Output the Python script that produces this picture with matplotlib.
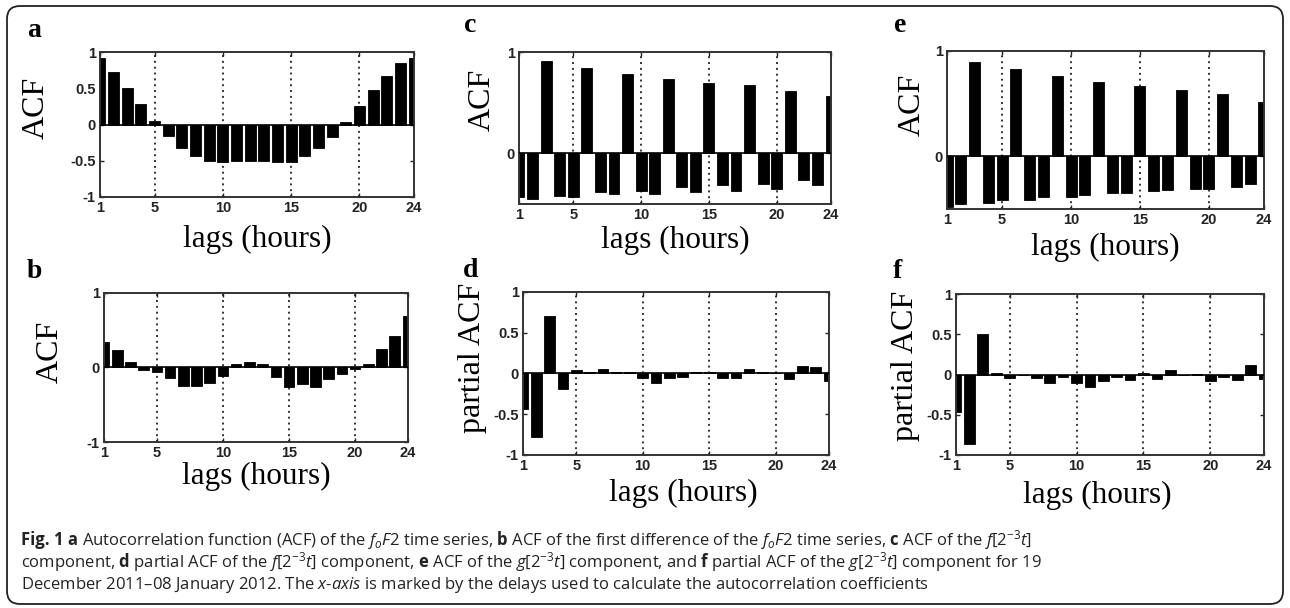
import matplotlib
matplotlib.use("Agg")
import matplotlib.pyplot as plt
from matplotlib.patches import FancyBboxPatch

# ---------------- data ----------------
lags = list(range(1, 25))
xtick_vals = [1, 5, 10, 15, 20, 24]
grid_lags = [5, 10, 15, 20]

acf_fof2 = [0.92, 0.73, 0.51, 0.28, 0.05, -0.16, -0.32, -0.44, -0.50, -0.52, -0.50, -0.50,
            -0.50, -0.52, -0.52, -0.44, -0.32, -0.17, 0.03, 0.26, 0.48, 0.67, 0.85, 0.92]
acf_diff = [0.34, 0.23, 0.07, -0.035, -0.07, -0.15, -0.25, -0.25, -0.21, -0.12, 0.05, 0.07,
            0.05, -0.13, -0.27, -0.22, -0.26, -0.16, -0.09, -0.02, 0.05, 0.24, 0.42, 0.69]
acf_f = [-0.43, -0.45, 0.91, -0.42, -0.43, 0.84, -0.38, -0.40, 0.78, -0.37, -0.40, 0.73,
         -0.33, -0.38, 0.69, -0.31, -0.37, 0.67, -0.30, -0.35, 0.62, -0.26, -0.31, 0.57]
pacf_f = [-0.43, -0.78, 0.71, -0.19, 0.045, 0.02, 0.06, 0.02, 0.02, -0.06, -0.115, -0.06,
          -0.04, 0.015, 0.015, -0.05, -0.05, 0.06, 0.015, 0.0, -0.07, 0.09, 0.075, -0.09]
acf_g = [-0.48, -0.45, 0.90, -0.44, -0.41, 0.83, -0.41, -0.39, 0.76, -0.39, -0.37, 0.71,
         -0.35, -0.35, 0.67, -0.33, -0.32, 0.63, -0.31, -0.31, 0.59, -0.29, -0.26, 0.52]
pacf_g = [-0.47, -0.86, 0.50, 0.015, -0.04, -0.01, -0.04, -0.10, -0.03, -0.10, -0.16, -0.08,
          -0.025, -0.07, 0.015, -0.06, 0.055, 0.0, 0.01, -0.075, -0.03, -0.07, 0.12, -0.06]

yt_full = [-1, -0.5, 0, 0.5, 1]
yt_full_lbl = ["-1", "-0.5", "0", "0.5", "1"]
yt_b = [-1, 0, 1]
yt_b_lbl = ["-1", "0", "1"]
yt_ce = [0, 1]
yt_ce_lbl = ["0", "1"]

caption_head = "Fig. 1 a"
caption_lines = [
    r"Autocorrelation function (ACF) of the $\mathit{f_{o}F2}$ time series, "
    r"$\mathbf{b}$ ACF of the first difference of the $\mathit{f_{o}F2}$ time series, $\mathbf{c}$ ACF of the $f[2^{-3}t]$",
    r"component, $\mathbf{d}$ partial ACF of the $f[2^{-3}t]$ component, $\mathbf{e}$ ACF of the $g[2^{-3}t]$ "
    r"component, and $\mathbf{f}$ partial ACF of the $g[2^{-3}t]$ component for 19",
    r"December 2011–08 January 2012. The $x$-$axis$ is marked by the delays used to calculate the autocorrelation coefficients",
]

# ---------------- figure ----------------
W, H = 1290, 608
plt.rcParams["mathtext.fontset"] = "custom"
plt.rcParams["mathtext.rm"] = "Open Sans"
plt.rcParams["mathtext.it"] = "Open Sans:italic"
plt.rcParams["mathtext.bf"] = "Open Sans:bold"

fig = plt.figure(figsize=(W / 100, H / 100), dpi=100)
fig.patch.set_facecolor("white")


def px_axes(x0, x1, y0, y1):
    return fig.add_axes([x0 / W, 1 - y1 / H, (x1 - x0) / W, (y1 - y0) / H])


panels = [
    # key, data, box(x0,x1,y0,y1), ylim, yticks, ylabels, ylabel, ylab_pos, xlab_pos, letter_pos
    ("a", acf_fof2, (100, 414, 52, 197), (-1, 1), yt_full, yt_full_lbl, "ACF", (36, 108), (257, 239), (27, 37)),
    ("c", acf_f, (519, 831, 52, 204), (-0.5, 1), yt_ce, yt_ce_lbl, "ACF", (482, 100), (675, 240), (464, 32)),
    ("e", acf_g, (947, 1264, 51, 209), (-0.5, 1), yt_ce, yt_ce_lbl, "ACF", (912, 105), (1105, 247), (894, 32)),
    ("b", acf_diff, (104, 408, 292.5, 442), (-1, 1), yt_b, yt_b_lbl, "ACF", (50, 352), (256, 476), (27, 278)),
    ("d", pacf_f, (523, 829, 292, 455), (-1, 1), yt_full, yt_full_lbl, "partial ACF", (473, 358), (683, 493), (463, 277)),
    ("f", pacf_g, (956, 1264, 294, 455), (-1, 1), yt_full, yt_full_lbl, "partial ACF", (905, 366), (1097, 495), (893, 278)),
]

serif = "Liberation Serif"
tickfont = {"family": "Liberation Sans", "weight": "bold", "size": 10.5}

for key, vals, box, ylim, yt, ytl, ylab, ylp, xlp, lp in panels:
    ax = px_axes(*box)
    for g in grid_lags:
        ax.axvline(g, color="#333333", lw=1.4, ls=(0, (1, 2.0)), zorder=1)
    ax.bar(lags, vals, width=0.8, color="black", edgecolor="black", lw=0.6, zorder=2)
    ax.axhline(0, color="black", lw=1.2, zorder=3)
    ax.set_xlim(1, 24)
    ax.set_ylim(*ylim)
    ax.set_xticks(xtick_vals)
    ax.set_xticklabels([str(v) for v in xtick_vals], fontdict=tickfont)
    ax.set_yticks(yt)
    ax.set_yticklabels(ytl, fontdict=tickfont)
    ax.tick_params(direction="in", length=3, width=1, top=True, right=True, pad=3, colors="#222222")
    for s in ax.spines.values():
        s.set_linewidth(1.4)
        s.set_color("#333333")
    fig.text(ylp[0] / W, 1 - ylp[1] / H, ylab, rotation=90, ha="center", va="center",
             family=serif, fontsize=23)
    fig.text(xlp[0] / W, 1 - xlp[1] / H, "lags (hours)", ha="center", va="center",
             family=serif, fontsize=22.5)
    fig.text(lp[0] / W, 1 - lp[1] / H, key, ha="left", va="baseline",
             family=serif, weight="bold", fontsize=20)

# caption
baselines = [545, 567, 589]
cap_x = 21
head = fig.text(cap_x / W, 1 - baselines[0] / H, caption_head, ha="left", va="baseline",
                family="Open Sans", weight="bold", fontsize=12, color="#222222")
renderer = fig.canvas.get_renderer()
head_x1 = head.get_window_extent(renderer).x1
for i, (line, yb) in enumerate(zip(caption_lines, baselines)):
    x = (head_x1 + 4) / W if i == 0 else cap_x / W
    fig.text(x, 1 - yb / H, line, ha="left", va="baseline", family="Open Sans",
             fontsize=12, color="#222222")

# rounded frame
frame = FancyBboxPatch((7 / 100, (H - 604) / 100), (1283 - 7) / 100, (604 - 6) / 100,
                       boxstyle="round,pad=0,rounding_size=0.13",
                       transform=fig.dpi_scale_trans, fill=False, edgecolor="#222222", lw=1.3)
fig.add_artist(frame)

fig.savefig("out.png", dpi=100, facecolor="white")
